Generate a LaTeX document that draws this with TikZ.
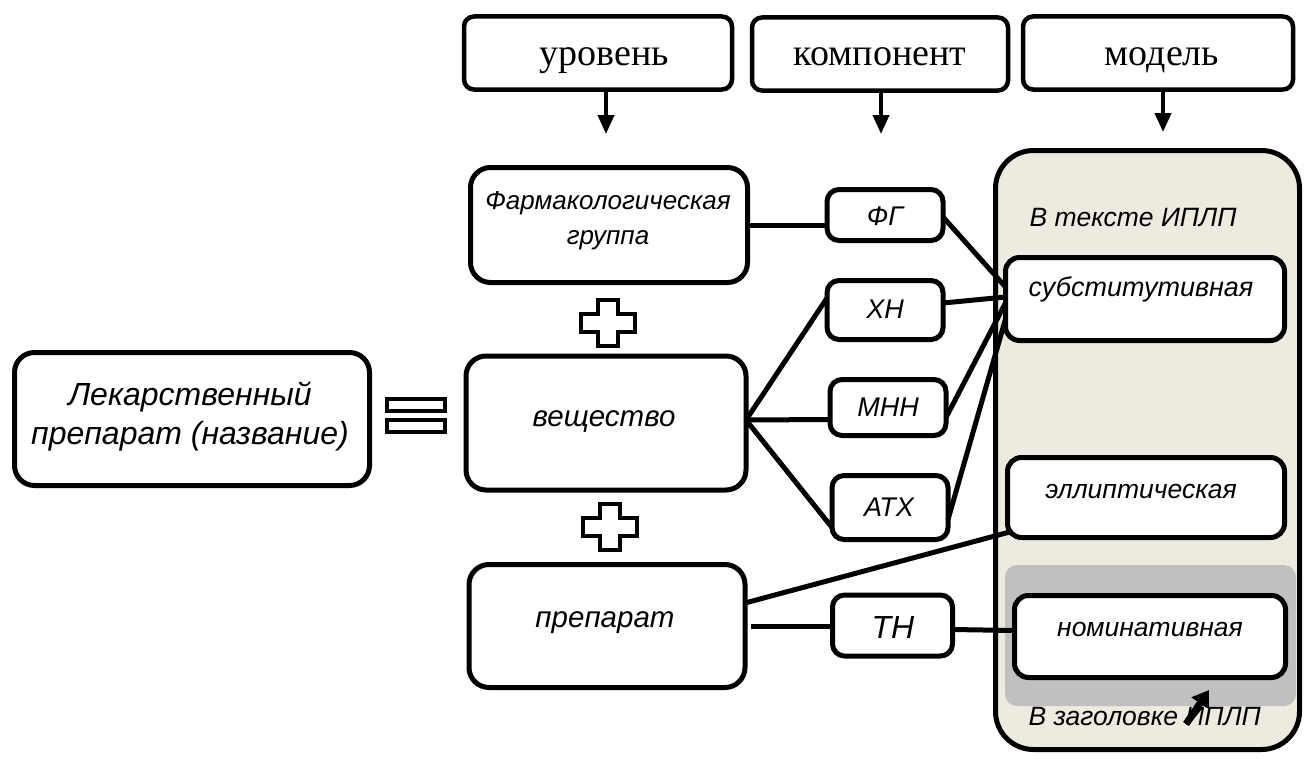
\documentclass[tikz,border=0pt]{standalone}
\usepackage{fontspec}
\setmainfont{Liberation Serif}
\newfontfamily\arialfont{Liberation Sans}
\usetikzlibrary{calc,arrows.meta}

\begin{document}
\begin{tikzpicture}[x=1pt,y=-1pt,
  frame/.style={draw, line width=5pt, fill=white, inner sep=0pt, outer sep=0pt},
  bigbox/.style={frame, rounded corners=20pt},
  smallbox/.style={frame, rounded corners=12pt, minimum width=116pt},
  headbox/.style={frame, line width=4.5pt, rounded corners=10pt, minimum height=73pt},
  modelbox/.style={frame, rounded corners=14pt},
  link/.style={line width=5pt},
  down/.style={line width=4pt, -{Triangle[length=19pt,width=16pt]}},
  headtxt/.style={font=\fontsize{38}{44}\selectfont, anchor=base},
  bigtxt/.style={font=\arialfont\itshape\fontsize{32}{39}\selectfont, align=center},
  midtxt/.style={font=\arialfont\itshape\fontsize{#1}{35}\selectfont, align=center},
  smalltxt/.style={font=\arialfont\itshape\fontsize{27}{32}\selectfont},
  paneltxt/.style={font=\arialfont\itshape\fontsize{26.5}{31}\selectfont},
  signline/.style={draw, line width=4pt, line join=miter},
]
\useasboundingbox (0,0) rectangle (1308,760);

% column headers
\node[headbox, minimum width=268pt] (hlevel) at (598,53) {};
\node[headbox, minimum width=256pt] (hcomp) at (880,54) {};
\node[headbox, minimum width=270pt] (hmodel) at (1158,53) {};
\node[headtxt] (tlevel) at (604,66) {уровень};
\node[headtxt] (tcomp) at (880,66) {компонент};
\node[headtxt] (tmodel) at (1162,66) {модель};
\coordinate (alevel) at (606,134);
\coordinate (acomp) at (881,134);
\coordinate (amodel) at (1163,132);
\draw[down] (hlevel.south -| alevel) -- (alevel);
\draw[down] (hcomp.south -| acomp) -- (acomp);
\draw[down] (hmodel.south -| amodel) -- (amodel);

% model panel
\node[draw, line width=5pt, fill={rgb,255:red,237;green,235;blue,224}, rounded corners=38pt,
      minimum width=304pt, minimum height=599pt, inner sep=0pt] (panel) at (1147.5,450) {};
\node[fill={rgb,255:red,192;green,192;blue,192}, rounded corners=12pt,
      minimum width=291pt, minimum height=141pt, inner sep=0pt] (header) at (1150.5,635.5) {};
\node[paneltxt, anchor=west] (tintext) at (1026,218) {В тексте ИПЛП};
\node[paneltxt, anchor=west] (tinhead) at (1025,717) {В заголовке ИПЛП};
\node[modelbox, minimum width=279pt, minimum height=83pt] (subst) at (1145,299) {};
\node[modelbox, minimum width=277pt, minimum height=80pt] (ellip) at (1146,497.5) {};
\node[modelbox, minimum width=271pt, minimum height=82pt] (nomin) at (1150,636.5) {};
\node[paneltxt, font=\arialfont\itshape\fontsize{27}{31}\selectfont] (tsubst) at (1141,289) {субститутивная};
\node[paneltxt] (tellip) at (1141,491) {эллиптическая};
\node[paneltxt] (tnomin) at (1150,629) {номинативная};
\coordinate (ptail) at (1186,724);
\coordinate (phead) at (1209,690);
\draw[line width=7pt, -{Triangle[length=16pt,width=20pt]}] (ptail) -- (phead);

% left term
\node[bigbox, minimum width=355pt, minimum height=133pt] (drug) at (192,419) {};
\node[bigtxt] (tdrug) at (190,416) {Лекарственный\\препарат (название)};

% equals sign
\draw[signline] (387,399) rectangle (445,411) (387,420) rectangle (445,432);

% levels
\node[bigbox, minimum width=277pt, minimum height=115pt] (farm) at (609,225) {};
\node[bigbox, minimum width=280pt, minimum height=134pt] (subs) at (606,423) {};
\node[bigbox, minimum width=276pt, minimum height=123pt] (prep) at (607,626) {};
\node[midtxt=26] (tfarm) at (608,221) {Фармакологическая\\группа};
\node[midtxt=29.5] (tsubs) at (604,421) {вещество};
\node[midtxt=29.5] (tprep) at (605,623) {препарат};

% plus signs between levels
\foreach \cx/\cy/\nm in {608/323/plusA, 610/527/plusB}{
  \coordinate (\nm) at (\cx,\cy);
  \draw[signline]
    ($(\nm)+(-10,-23)$) -- ($(\nm)+(10,-23)$) -- ($(\nm)+(10,-9)$) -- ($(\nm)+(27,-9)$)
    -- ($(\nm)+(27,9)$) -- ($(\nm)+(10,9)$) -- ($(\nm)+(10,23)$) -- ($(\nm)+(-10,23)$)
    -- ($(\nm)+(-10,9)$) -- ($(\nm)+(-27,9)$) -- ($(\nm)+(-27,-9)$) -- ($(\nm)+(-10,-9)$) -- cycle;
}

% components
\node[smallbox, minimum height=51pt] (cfg) at (885,215) {};
\node[smallbox, minimum height=59pt] (cxn) at (885,310) {};
\node[smallbox, minimum height=56pt] (cmnn) at (888,407.5) {};
\node[smallbox, minimum height=64pt] (catx) at (890,507.5) {};
\node[smallbox, minimum width=120pt, minimum height=61pt] (ctn) at (892.5,625.5) {};
\node[smalltxt] (tfg) at (885,216) {ФГ};
\node[smalltxt] (txn) at (885,309) {ХН};
\node[smalltxt] (tmnn) at (888,407) {МНН};
\node[smalltxt] (tatx) at (889,507) {АТХ};
\node[smalltxt, font=\arialfont\itshape\fontsize{32}{38}\selectfont] (ttn) at (893,627) {ТН};

% connectors
\draw[link] (farm.east) -- (farm.east -| cfg.west);
\coordinate (hub) at ($(subs.east)+(0,-3)$);
\draw[link, line join=round] ($(cxn.west)+(0,-12)$) -- (hub) -- ($(catx.west)+(0,20)$);
\draw[link] (hub) -- ($(cmnn.west)+(0,12)$);
\draw[link] ($(cfg.east)+(0,2)$) -- ($(subst.west)+(0,-12)$);
\draw[link] ($(cxn.east)+(0,-7)$) -- ($(subst.west)+(0,-2)$);
\draw[link] ($(cmnn.east)+(0,10)$) -- ($(subst.west)+(0,4)$);
\draw[link] ($(catx.east)+(0,12)$) -- ($(subst.west)+(0,20)$);
\draw[link] ($(prep.east)+(0,-23)$) -- ($(ellip.south west)+(4,-6)$);
\draw[link] ($(prep.east)+(6,0)$) -- (prep.east -| ctn.west);
\draw[link] ($(ctn.east)+(0,4)$) -- ($(nomin.west)+(0,-6)$);
\end{tikzpicture}
\end{document}
